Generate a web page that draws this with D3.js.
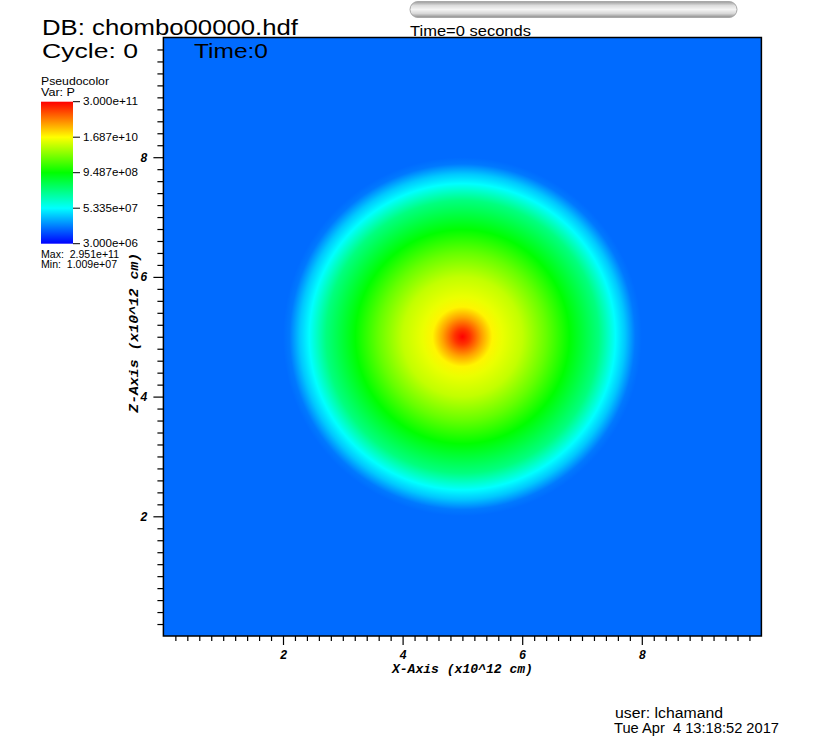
<!DOCTYPE html>
<html><head><meta charset="utf-8">
<script src="https://cdn.jsdelivr.net/npm/d3@7"></script>
<style>body{margin:0;background:#fff}svg{display:block}</style>
</head><body>
<script>
// ---- data ----
const radiusUnits = [0, 0.13, 0.33, 0.5, 0.67, 1.0, 1.4, 1.79, 2.28, 2.56, 2.72, 2.89, 3.0];
const pressureValues = [2.951e11, 1.69e11, 4.75e10, 1.89e10, 1.34e10, 8.45e9, 3.0e9, 9.49e8, 2.25e8, 5.33e7, 2.87e7, 1.17e7, 1.009e7];
const centerXZ = [5, 5];
const axisDomain = [0, 10];
const majorTicks = [2, 4, 6, 8];
const colorStops = [3e6, 5.335e7, 9.487e8, 1.687e10, 3e11];
const colorRange = ["#0000ff", "#00ffff", "#00ff00", "#ffff00", "#ff0000"];
const legendTickValues = [3e11, 1.687e10, 9.487e8, 5.335e7, 3e6];
const legendTickLabels = ["3.000e+11", "1.687e+10", "9.487e+08", "5.335e+07", "3.000e+06"];
const dataMax = "2.951e+11", dataMin = "1.009e+07";

const W = 820, H = 748;
const svg = d3.select("body").append("svg").attr("width", W).attr("height", H);
const defs = svg.append("defs");

const x = d3.scaleLinear().domain(axisDomain).range([163.4, 761.4]);
const y = d3.scaleLinear().domain(axisDomain).range([636, 37.5]);
const color = d3.scaleLog().domain(colorStops).range(colorRange).interpolate(d3.interpolateRgb).clamp(true);

// ---- pseudocolor field (radial) ----
const rMaxPx = x(d3.max(radiusUnits)) - x(0);
const rg = defs.append("radialGradient").attr("id", "field")
  .attr("gradientUnits", "userSpaceOnUse")
  .attr("cx", x(centerXZ[0])).attr("cy", y(centerXZ[1])).attr("r", rMaxPx)
  .attr("fx", x(centerXZ[0])).attr("fy", y(centerXZ[1]));
rg.selectAll("stop").data(radiusUnits).join("stop")
  .attr("offset", (d) => d / d3.max(radiusUnits))
  .attr("stop-color", (d, i) => color(pressureValues[i]));

svg.append("rect").attr("x", x(0)).attr("y", y(10))
  .attr("width", x(10) - x(0)).attr("height", y(0) - y(10))
  .attr("fill", "url(#field)");
svg.append("rect").attr("x", x(0)).attr("y", y(10))
  .attr("width", x(10) - x(0)).attr("height", y(0) - y(10))
  .attr("fill", "none").attr("stroke", "#000").attr("stroke-width", 1.5);

// ---- axes ----
const minorTicks = x.ticks(50).filter(t => t > 0 && t < 10 && !majorTicks.some(m => Math.abs(m - t) < 1e-6));
const tickFont = "'Liberation Mono', 'DejaVu Sans Mono', monospace";

const gxMinor = svg.append("g").attr("transform", `translate(0,${y(0)})`)
  .call(d3.axisBottom(x).tickValues(minorTicks).tickSize(5).tickFormat(""));
const gxMajor = svg.append("g").attr("transform", `translate(0,${y(0)})`)
  .call(d3.axisBottom(x).tickValues(majorTicks).tickSize(9).tickPadding(6).tickFormat(d3.format("d")));
const gyMinor = svg.append("g").attr("transform", `translate(${x(0)},0)`)
  .call(d3.axisLeft(y).tickValues(minorTicks).tickSize(6).tickFormat(""));
const gyMajor = svg.append("g").attr("transform", `translate(${x(0)},0)`)
  .call(d3.axisLeft(y).tickValues(majorTicks).tickSize(10).tickPadding(6).tickFormat(d3.format("d")));
[gxMinor, gxMajor, gyMinor, gyMajor].forEach(g => {
  g.select(".domain").remove();
  g.selectAll("line").attr("stroke", "#000").attr("stroke-width", 1.2);
  g.selectAll("text").attr("font-family", tickFont).attr("font-style", "italic")
    .attr("font-weight", "bold").attr("font-size", 12).attr("fill", "#000");
});
gxMajor.selectAll("text").attr("dy", null).attr("y", null).attr("dominant-baseline", null)
  .attr("transform", null).attr("y", 23);

svg.append("text").attr("x", x(5)).attr("y", 673).attr("text-anchor", "middle")
  .attr("font-family", tickFont).attr("font-style", "italic").attr("font-weight", "bold")
  .attr("font-size", 12.5).attr("textLength", 141).attr("lengthAdjust", "spacingAndGlyphs")
  .text("X-Axis (x10^12 cm)");
svg.append("text").attr("transform", `translate(138,${y(5) - 4}) rotate(-90)`).attr("text-anchor", "middle")
  .attr("font-family", tickFont).attr("font-style", "italic").attr("font-weight", "bold")
  .attr("font-size", 12.5).attr("textLength", 160).attr("lengthAdjust", "spacingAndGlyphs")
  .text("Z-Axis (x10^12 cm)");

// ---- titles ----
const sans = "'Liberation Sans', Arial, sans-serif";
function txt(s, xx, yy, size, len, anchor) {
  const t = svg.append("text").attr("x", xx).attr("y", yy).attr("font-family", sans)
    .attr("font-size", size).attr("fill", "#000").text(s);
  if (len) t.attr("textLength", len).attr("lengthAdjust", "spacingAndGlyphs");
  if (anchor) t.attr("text-anchor", anchor);
  return t;
}
txt("DB: chombo00000.hdf", 42, 35, 21.5, 256);
txt("Cycle: 0", 42, 57.5, 21, 96);
txt("Time:0", 194, 57.5, 21, 74);

// ---- time slider ----
const sg = defs.append("linearGradient").attr("id", "slider").attr("x1", 0).attr("y1", 0).attr("x2", 0).attr("y2", 1);
[[0, "#9a9a9a"], [0.25, "#dcdcdc"], [0.5, "#f4f4f4"], [0.75, "#d8d8d8"], [1, "#8c8c8c"]]
  .forEach(([o, c]) => sg.append("stop").attr("offset", o).attr("stop-color", c));
svg.append("rect").attr("x", 410).attr("y", 1.5).attr("width", 327).attr("height", 16).attr("rx", 8)
  .attr("fill", "url(#slider)").attr("stroke", "#a8a8a8").attr("stroke-width", 1);
txt("Time=0 seconds", 410, 36, 14.5, 121);

// ---- legend ----
txt("Pseudocolor", 41, 85, 10.5, 68);
txt("Var: P", 41, 95.5, 10.5, 34);
const lg = defs.append("linearGradient").attr("id", "cbar").attr("x1", 0).attr("y1", 1).attr("x2", 0).attr("y2", 0);
lg.selectAll("stop").data(colorStops).join("stop")
  .attr("offset", (d, i) => i / (colorStops.length - 1)).attr("stop-color", d => color(d));
const ly = d3.scaleLog().domain([3e6, 3e11]).range([243.7, 101.7]);
svg.append("rect").attr("x", 41).attr("y", ly(3e11)).attr("width", 32)
  .attr("height", ly(3e6) - ly(3e11)).attr("fill", "url(#cbar)");
const lt = svg.append("g");
lt.selectAll("line").data(legendTickValues).join("line")
  .attr("x1", 73).attr("x2", 80).attr("y1", d => ly(d)).attr("y2", d => ly(d))
  .attr("stroke", "#000").attr("stroke-width", 1);
lt.selectAll("text").data(legendTickValues).join("text")
  .attr("x", 83).attr("y", d => ly(d) + 3.5).attr("font-family", sans).attr("font-size", 10.5)
  .attr("textLength", 55).attr("lengthAdjust", "spacingAndGlyphs")
  .text((d, i) => legendTickLabels[i]);
txt("Max:  " + dataMax, 41, 257.5, 10, 78).style("white-space", "pre");
txt("Min:  " + dataMin, 41, 268, 10, 76).style("white-space", "pre");

// ---- footer ----
txt("user: lchamand", 615, 718, 14, 108);
txt("Tue Apr  4 13:18:52 2017", 614, 733, 14, 165).style("white-space", "pre");
</script>
</body></html>
